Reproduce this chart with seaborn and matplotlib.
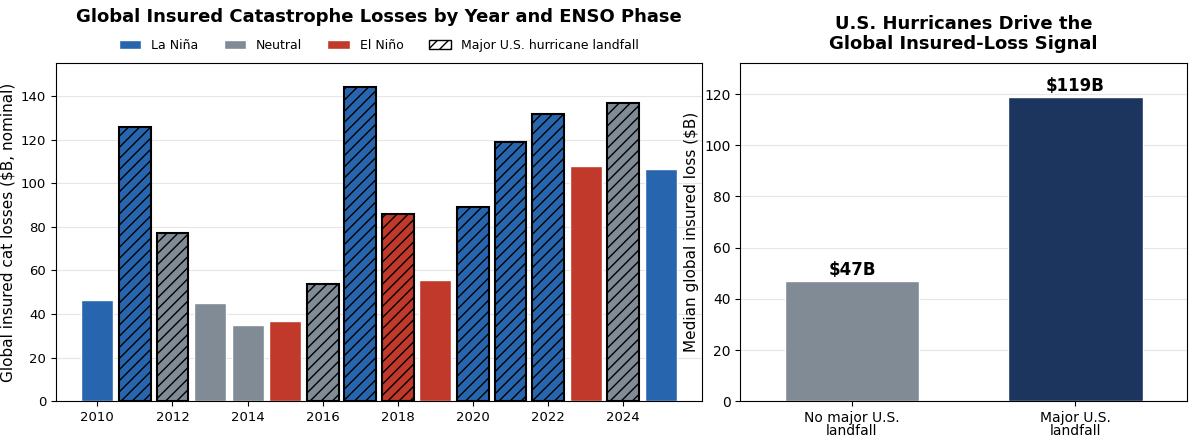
import matplotlib
matplotlib.use("Agg")
import matplotlib.pyplot as plt
from matplotlib.patches import Patch
import seaborn as sns
import pandas as pd

years = list(range(2010, 2026))
losses = [46.5, 126, 77, 45, 35, 37, 54, 144, 86, 55.5, 89, 119, 132, 108, 137, 106.5]
phase = ["La Niña", "La Niña", "Neutral", "Neutral", "Neutral", "El Niño", "Neutral", "La Niña",
         "El Niño", "El Niño", "La Niña", "La Niña", "La Niña", "El Niño", "Neutral", "La Niña"]
landfall = [0, 1, 1, 0, 0, 0, 1, 1, 1, 0, 1, 1, 1, 0, 1, 0]

groups = ["No major U.S.\nlandfall", "Major U.S.\nlandfall"]
medians = [47, 119]

colors = {"La Niña": "#2766ae", "Neutral": "#808b96", "El Niño": "#c0392b"}

sns.set_style("white", {"text.color": "black", "axes.labelcolor": "black",
                        "xtick.color": "black", "ytick.color": "black",
                        "axes.edgecolor": "black"})
plt.rcParams['font.family'] = ['DejaVu Sans']
fig = plt.figure(figsize=(11.92, 4.4), dpi=100)
ax = fig.add_axes([0.047, 0.088, 0.542, 0.768])
ax2 = fig.add_axes([0.621, 0.088, 0.375, 0.768])

df = pd.DataFrame({"year": years, "loss": losses, "phase": phase})
sns.barplot(data=df, x="year", y="loss", hue="phase", palette=colors, dodge=False,
            ax=ax, legend=False, width=0.85, native_scale=True, saturation=1)
pats = [p for p in ax.patches if p.get_height() > 0]
pats.sort(key=lambda p: p.get_x())
for p, lf in zip(pats, landfall):
    if lf:
        p.set_hatch("///")
        p.set_edgecolor("black")
        p.set_linewidth(1.5)
ax.set_xlim(2008.9, 2026.1)
ax.set_xticks(range(2010, 2025, 2))
ax.set_ylim(0, 155)
ax.set_xlabel("")
ax.set_ylabel("Global insured cat losses ($B, nominal)", fontsize=11, labelpad=4)
ax.yaxis.grid(True, color="#e6e6e6")
ax.set_axisbelow(True)
ax.tick_params(left=True, bottom=True, labelsize=9.5)
ax.set_title("Global Insured Catastrophe Losses by Year and ENSO Phase", fontsize=13,
             fontweight="bold", pad=30)
handles = [Patch(facecolor=colors[k], label=k) for k in ["La Niña", "Neutral", "El Niño"]]
handles.append(Patch(facecolor="white", edgecolor="black", hatch="///",
                     label="Major U.S. hurricane landfall"))
ax.legend(handles=handles, loc="lower center", bbox_to_anchor=(0.5, 1.0), ncol=4,
          frameon=False, fontsize=9, handlelength=1.8)

df2 = pd.DataFrame({"g": groups, "m": medians})
sns.barplot(data=df2, x="g", y="m", hue="g", palette=["#808b96", "#1c355e"], ax=ax2,
            legend=False, width=0.6, saturation=1)
for p, v in zip(ax2.patches, medians):
    ax2.text(p.get_x() + p.get_width() / 2, v + 0.8, f"${v}B", ha="center", va="bottom",
             fontsize=12, fontweight="bold")
ax2.set_ylim(0, 132)
ax2.set_xlabel("")
ax2.set_ylabel("Median global insured loss ($B)", fontsize=11)
ax2.yaxis.grid(True, color="#e6e6e6")
ax2.set_axisbelow(True)
ax2.tick_params(left=True, bottom=True, labelsize=10)
ax2.set_xticks([0, 1])
ax2.set_xticklabels(groups, fontsize=10, linespacing=0.95)
ax2.set_title("U.S. Hurricanes Drive the\nGlobal Insured-Loss Signal", fontsize=13,
              fontweight="bold", pad=10)

fig.savefig("out.png", dpi=100)
